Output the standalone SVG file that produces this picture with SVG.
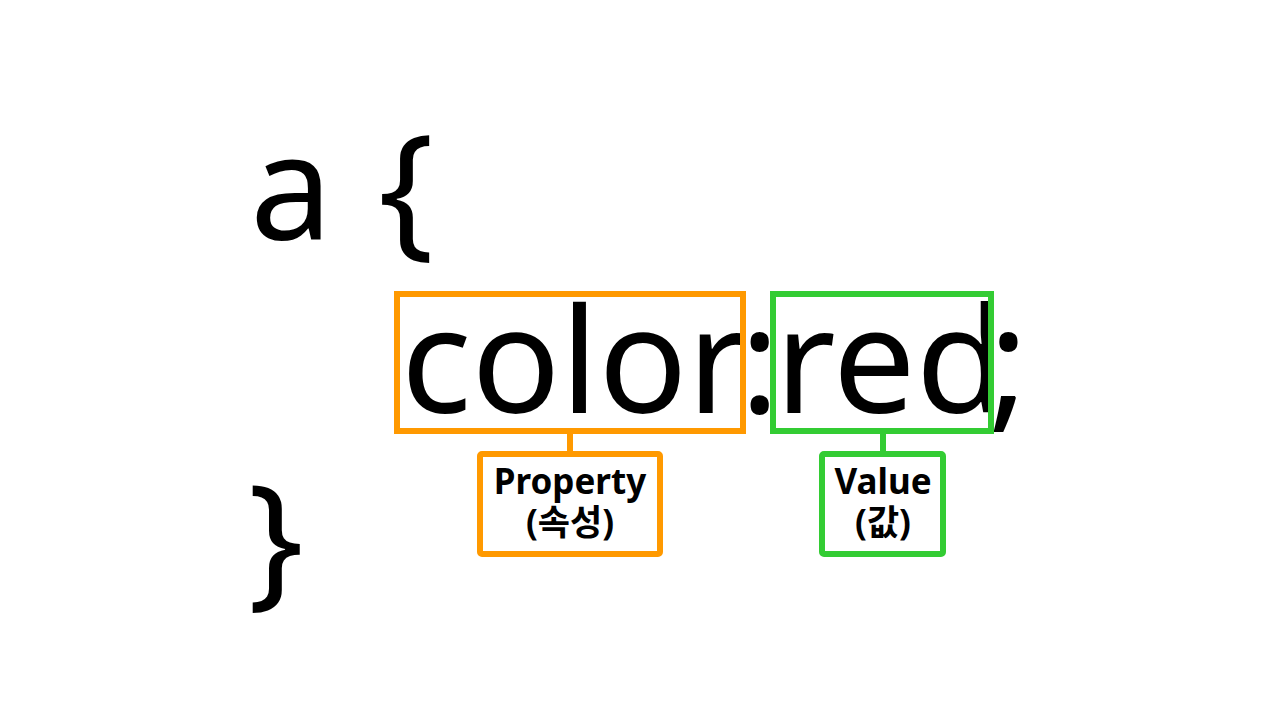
<svg xmlns="http://www.w3.org/2000/svg" width="1280" height="720" viewBox="0 0 1280 720">
<style>
.code{font-family:"Noto Sans","Open Sans",sans-serif;font-size:147px;fill:#000}
.lbl{font-family:"Noto Sans","Noto Sans CJK KR",sans-serif;font-size:35px;font-weight:bold;fill:#000;text-anchor:middle}
.or{fill:none;stroke:#FF9900;stroke-width:6}
.gr{fill:none;stroke:#33CC33;stroke-width:6}
</style>
<rect width="1280" height="720" fill="#fff"/>
<g id="code">
<text class="code" y="240"><tspan x="250">a</tspan><tspan x="378">{</tspan></text>
<text class="code" y="413"><tspan x="401">color</tspan><tspan x="740">:</tspan><tspan x="775">red</tspan><tspan x="989">;</tspan></text>
<text class="code" x="248" y="590">}</text>
</g>
<g id="property-box">
<rect class="or" x="397" y="294" width="346" height="137"/>
</g>
<g id="value-box">
<rect class="gr" x="773" y="294" width="218" height="137"/>
</g>
<g id="connectors">
<line class="or" x1="570" y1="434" x2="570" y2="454"/>
<line class="gr" x1="883" y1="434" x2="883" y2="454"/>
</g>
<g id="property-label">
<rect class="or" x="480" y="454" width="180" height="100" rx="2"/>
<text class="lbl"><tspan x="570" y="494">Property</tspan><tspan x="570" y="535">(속성)</tspan></text>
</g>
<g id="value-label">
<rect class="gr" x="822" y="454" width="121" height="100" rx="2"/>
<text class="lbl"><tspan x="883" y="494">Value</tspan><tspan x="883" y="535">(값)</tspan></text>
</g>
</svg>
